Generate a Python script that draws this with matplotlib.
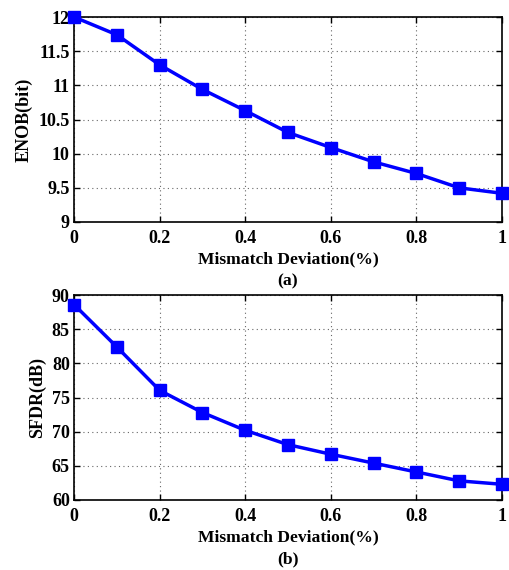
import matplotlib
matplotlib.use("Agg")
import matplotlib.pyplot as plt

x = [0, 0.1, 0.2, 0.3, 0.4, 0.5, 0.6, 0.7, 0.8, 0.9, 1.0]
enob = [12.0, 11.74, 11.30, 10.94, 10.63, 10.31, 10.09, 9.88, 9.71, 9.50, 9.42]
sfdr = [88.6, 82.4, 76.05, 72.8, 70.2, 68.1, 66.7, 65.4, 64.1, 62.8, 62.3]
xticks = [0, 0.2, 0.4, 0.6, 0.8, 1]
xticklabels = ["0", "0.2", "0.4", "0.6", "0.8", "1"]
enob_ticks = [9, 9.5, 10, 10.5, 11, 11.5, 12]
enob_labels = ["9", "9.5", "10", "10.5", "11", "11.5", "12"]
sfdr_ticks = [60, 65, 70, 75, 80, 85, 90]
sfdr_labels = ["60", "65", "70", "75", "80", "85", "90"]

plt.rcParams['font.family'] = ['Liberation Serif', 'DejaVu Serif']
plt.rcParams['font.weight'] = 'bold'

W, H = 510, 570
fig = plt.figure(figsize=(W/100, H/100), dpi=100)

def make(ax_box, y, yticks, ylabels, ylim, ylabel, sub):
    ax = fig.add_axes(ax_box)
    ax.plot(x, y, color='#0000ff', lw=2.5, marker='s', ms=8.8, mfc='#0000ff', mec='#0000ff', clip_on=False, zorder=3)
    ax.set_xlim(0, 1)
    ax.set_ylim(*ylim)
    ax.set_xticks(xticks)
    ax.set_xticklabels(xticklabels, fontsize=13, fontweight='bold')
    ax.set_yticks(yticks)
    ax.set_yticklabels(ylabels, fontsize=13, fontweight='bold')
    ax.grid(True, linestyle=(0, (1, 3)), color='#666666', lw=0.8)
    ax.tick_params(axis='y', pad=3)
    ax.tick_params(axis='x', pad=6)
    ax.tick_params(direction='in', length=4, width=1, top=True, right=True)
    for s in ax.spines.values():
        s.set_linewidth(1.2)
    ax.set_ylabel(ylabel, fontsize=13, fontweight='bold', labelpad=4)
    ax.set_xlabel("Mismatch Deviation(%)\n" + sub, fontsize=12.6, fontweight='bold', labelpad=3, linespacing=1.5)
    return ax

make([74/W, 1-222/H, 428/W, 205/H], enob, enob_ticks, enob_labels, (9, 12), "ENOB(bit)", "(a)")
make([74/W, 1-500/H, 428/W, 205/H], sfdr, sfdr_ticks, sfdr_labels, (60, 90), "SFDR(dB)", "(b)")

fig.savefig("out.png", dpi=100)
